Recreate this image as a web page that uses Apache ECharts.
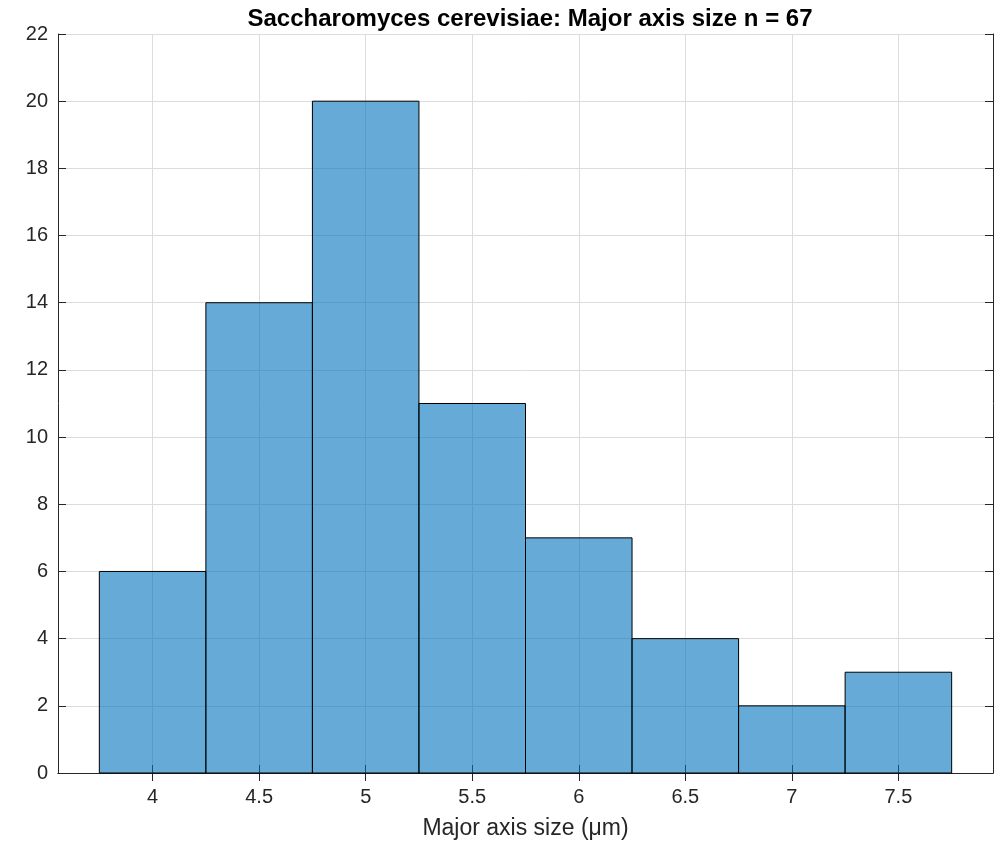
<!DOCTYPE html>
<html>
<head>
<meta charset="utf-8">
<script src="https://cdn.jsdelivr.net/npm/echarts@6/dist/echarts.min.js"></script>
<style>html,body{margin:0;padding:0;background:#fff;}#c{width:1002px;height:841px;}</style>
</head>
<body>
<div id="c"></div>
<script>
const binEdges = [3.75, 4.25, 4.75, 5.25, 5.75, 6.25, 6.75, 7.25, 7.75];
const counts = [6, 14, 20, 11, 7, 4, 2, 3];
const xTicks = [4, 4.5, 5, 5.5, 6, 6.5, 7, 7.5];
const yTicks = [0, 2, 4, 6, 8, 10, 12, 14, 16, 18, 20, 22];
const titleText = 'Saccharomyces cerevisiae: Major axis size n = 67';
const xLabel = 'Major axis size (μm)';

const bins = counts.map((c, i) => [binEdges[i], binEdges[i + 1], c]);
const FONT = '"Liberation Sans", Arial, Helvetica, sans-serif';
const axisColor = '#262626';
const gridLine = { show: true, lineStyle: { color: '#dcdcdc', width: 1 } };

const chart = echarts.init(document.getElementById('c'), null, { renderer: 'canvas' });
chart.setOption({
  animation: false,
  backgroundColor: '#ffffff',
  title: {
    text: titleText,
    left: 525, top: 2, textAlign: 'center',
    textStyle: { fontFamily: FONT, fontSize: 24, fontWeight: 'bold', color: '#000' }
  },
  grid: { left: 58, top: 34, width: 935, height: 739, containLabel: false, outerBoundsMode: 'none' },
  xAxis: [{
    type: 'value', min: 3.556, max: 7.944, position: 'bottom',
    name: xLabel, nameLocation: 'middle', nameGap: 44,
    nameTextStyle: { fontFamily: FONT, fontSize: 23, color: axisColor },
    axisLine: { show: true, lineStyle: { color: axisColor, width: 1 } },
    axisTick: { show: true, inside: true, length: 8, customValues: xTicks, lineStyle: { color: axisColor } },
    axisLabel: { customValues: xTicks, margin: 14, fontFamily: FONT, fontSize: 20, color: axisColor },
    splitLine: gridLine
  }, {
    type: 'value', min: 3.556, max: 7.944, position: 'top',
    axisLine: { show: true, lineStyle: { color: axisColor, width: 1 } },
    axisTick: { show: true, inside: true, length: 8, customValues: xTicks, lineStyle: { color: axisColor } },
    axisLabel: { show: false },
    splitLine: { show: false }
  }],
  yAxis: [{
    type: 'value', min: 0, max: 22, interval: 2, position: 'left',
    axisLine: { show: true, lineStyle: { color: axisColor, width: 1 } },
    axisTick: { show: true, inside: true, length: 8, lineStyle: { color: axisColor } },
    axisLabel: { margin: 10, fontFamily: FONT, fontSize: 20, color: axisColor, customValues: yTicks },
    splitLine: gridLine
  }, {
    type: 'value', min: 0, max: 22, interval: 2, position: 'right',
    axisLine: { show: true, lineStyle: { color: axisColor, width: 1 } },
    axisTick: { show: true, inside: true, length: 8, lineStyle: { color: axisColor } },
    axisLabel: { show: false },
    splitLine: { show: false }
  }],
  series: [{
    type: 'custom',
    xAxisIndex: 0, yAxisIndex: 0,
    data: bins,
    encode: { x: [0, 1], y: 2 },
    renderItem: function (params, api) {
      const p0 = api.coord([api.value(0), 0]);
      const p1 = api.coord([api.value(1), api.value(2)]);
      return {
        type: 'rect',
        shape: { x: p0[0], y: p1[1], width: p1[0] - p0[0], height: p0[1] - p1[1] },
        style: { fill: 'rgba(0,114,189,0.6)', stroke: '#000', lineWidth: 1 }
      };
    }
  }]
});
</script>
</body>
</html>
